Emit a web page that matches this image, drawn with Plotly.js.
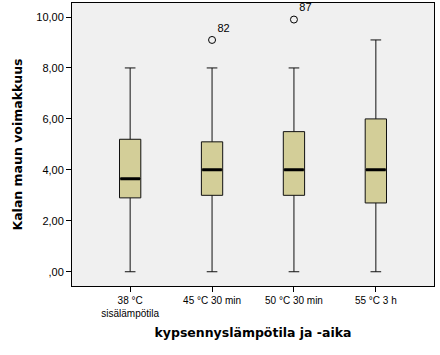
<!DOCTYPE html>
<html><head><meta charset="utf-8">
<script src="https://cdn.plot.ly/plotly-3.0.1.min.js"></script>
<style>html,body{margin:0;padding:0;background:#fff}#c{width:440px;height:355px}</style>
</head><body><div id="c"></div>
<script>
const categories = ["38 °C<br>sisälämpötila", "45 °C 30 min", "50 °C 30 min", "55 °C 3 h"];
const q1 = [2.9, 3.0, 3.0, 2.7];
const medians = [3.65, 4.0, 4.0, 4.0];
const q3 = [5.2, 5.1, 5.5, 6.0];
const lowerWhisker = [0, 0, 0, 0];
const upperWhisker = [8, 8, 8, 9.1];
const outlierCats = ["45 °C 30 min", "50 °C 30 min"];
const outlierValues = [9.1, 9.9];
const outlierLabels = ["82", "87"];
const yTickVals = [0, 2, 4, 6, 8, 10];
const yTickText = [",00", "2,00", "4,00", "6,00", "8,00", "10,00"];

const boxes = {
  type: 'box', x: categories, q1: q1, median: medians, q3: q3,
  lowerfence: lowerWhisker, upperfence: upperWhisker,
  fillcolor: '#D3CE98', line: {color: '#111', width: 1},
  width: 0.26, whiskerwidth: 0.5, boxpoints: false, showlegend: false, hoverinfo: 'skip'
};
const medianLines = {
  type: 'box', x: categories, q1: medians, median: medians, q3: medians,
  lowerfence: medians, upperfence: medians,
  fillcolor: 'rgba(0,0,0,0)', line: {color: '#000', width: 3},
  width: 0.24, whiskerwidth: 0, boxpoints: false, showlegend: false, hoverinfo: 'skip'
};
const outliers = {
  type: 'scatter', mode: 'markers+text', x: outlierCats, y: outlierValues,
  text: outlierLabels, textposition: 'top right',
  textfont: {family: 'Liberation Sans, Arial', size: 11, color: '#000'},
  marker: {symbol: 'circle-open', size: 7, color: '#000', line: {width: 1}},
  showlegend: false, hoverinfo: 'skip'
};

Plotly.newPlot('c', [boxes, medianLines, outliers], {
  width: 440, height: 355,
  margin: {l: 72, r: 6, t: 3, b: 69},
  paper_bgcolor: '#fff', plot_bgcolor: '#F0F0F0',
  font: {family: 'Liberation Sans, Arial', size: 11, color: '#000'},
  boxmode: 'overlay',
  xaxis: {
    type: 'category', categoryorder: 'array', categoryarray: categories,
    range: [-0.71, 3.71], showgrid: false, zeroline: false,
    showline: true, linecolor: '#000', linewidth: 1, mirror: true,
    ticks: 'outside', ticklen: 5, tickcolor: '#000',
    tickfont: {size: 10}, ticklabelstandoff: 0,
    title: {text: '<b>kypsennyslämpötila ja -aika</b>', font: {size: 12.5, family: 'DejaVu Sans'}, standoff: 10}
  },
  yaxis: {
    range: [-0.56, 10.55], showgrid: false, zeroline: false,
    showline: true, linecolor: '#000', linewidth: 1, mirror: true,
    ticks: 'outside', ticklen: 5, tickcolor: '#000',
    tickvals: yTickVals, ticktext: yTickText, tickfont: {size: 11},
    title: {text: '<b>Kalan maun voimakkuus</b>', font: {size: 12.5, family: 'DejaVu Sans'}, standoff: 10}
  }
}, {displayModeBar: false, staticPlot: true});
</script></body></html>
